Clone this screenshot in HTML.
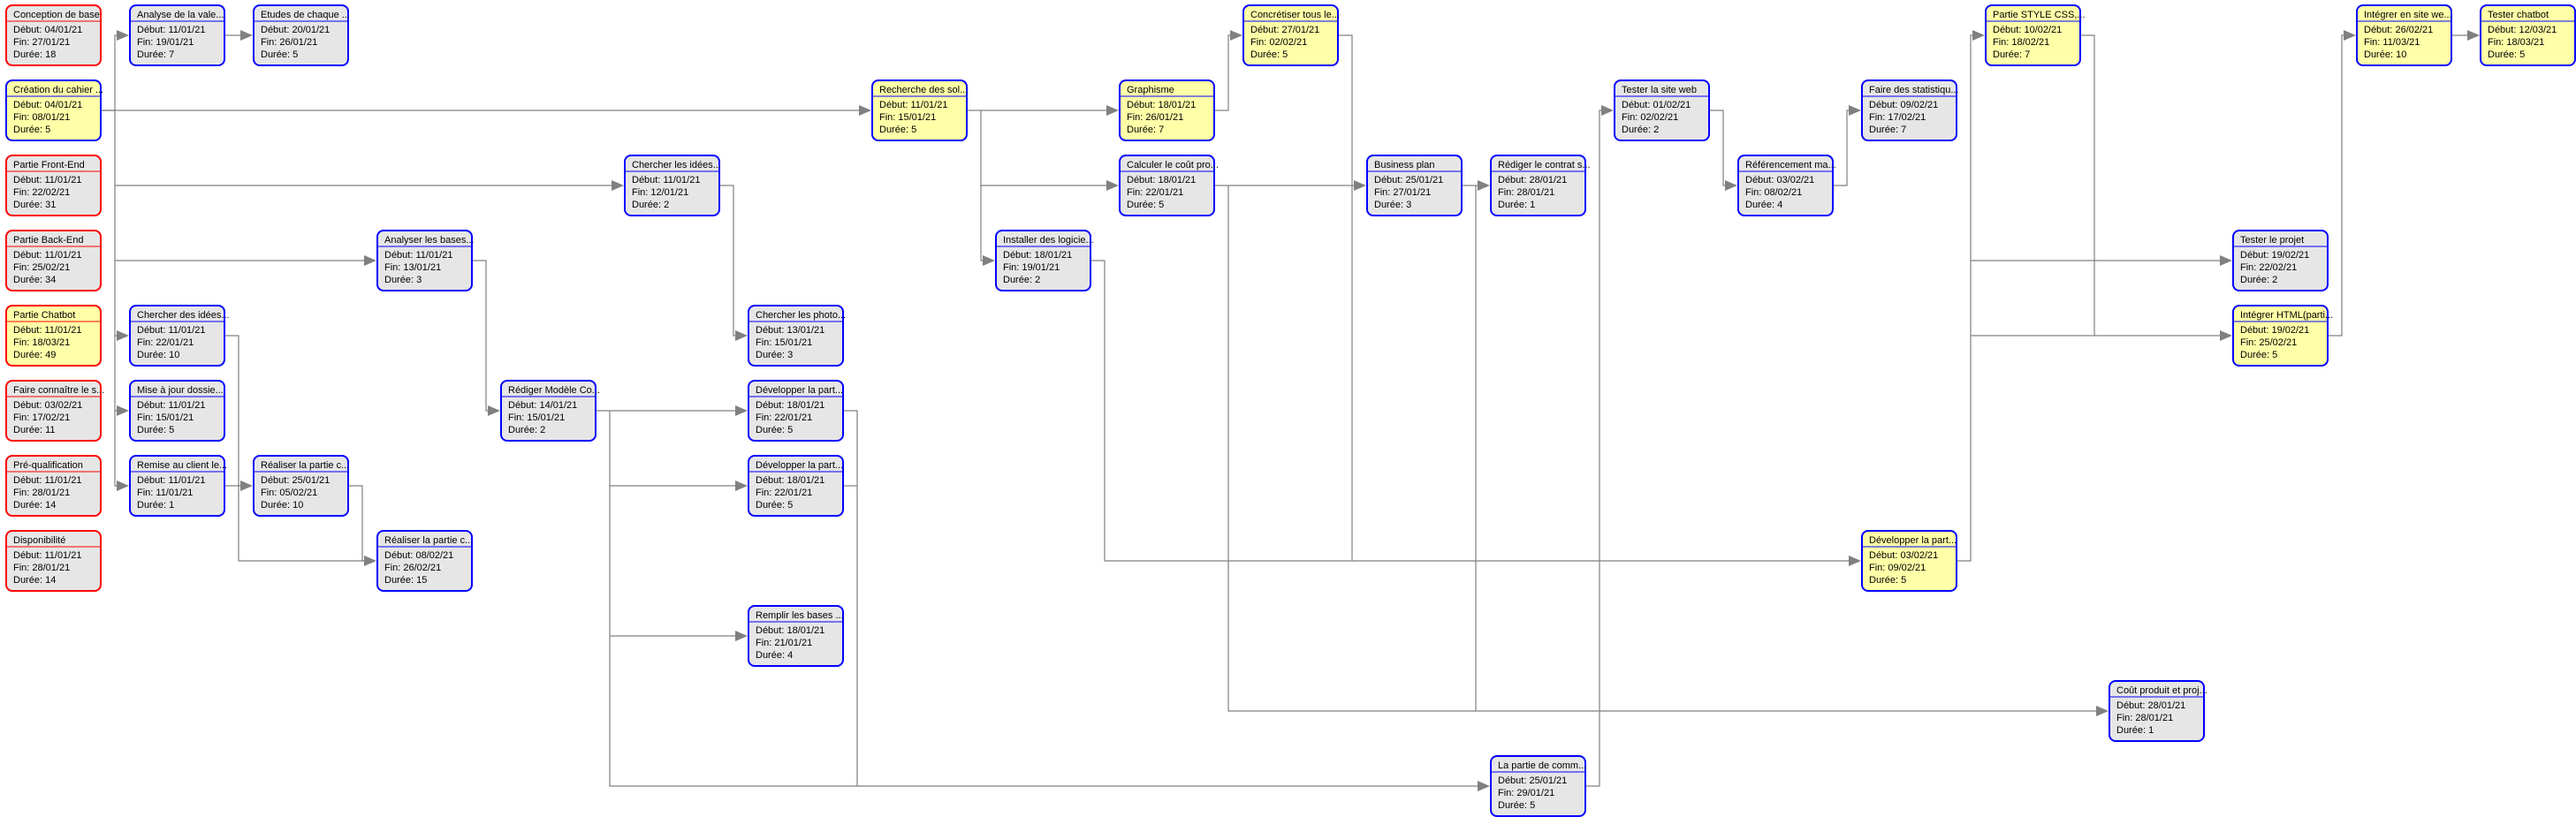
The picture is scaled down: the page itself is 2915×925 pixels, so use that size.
<!DOCTYPE html>
<html><head><meta charset="utf-8"><style>
html,body{margin:0;padding:0;background:#fff;}
svg{display:block;}
text{font-family:"Liberation Sans",sans-serif;font-size:11px;fill:#000;}
.g rect{fill:#e6e6e6}.y rect{fill:#ffffa8}
.b rect{stroke:#0000ff}.r rect{stroke:#ff0000}
.b line{stroke:#0000ff}.r line{stroke:#ff0000}
</style></head><body>
<svg width="2915" height="925" viewBox="0 0 2915 925" xmlns="http://www.w3.org/2000/svg">
<defs>
<g id="a"><polygon points="-14,-6 0,0 -14,6" fill="#808080"/></g>
</defs>
<g fill="none" stroke="#808080" stroke-width="1.2">
<path d="M115 125 H130 V40 H140"/>
<path d="M115 125 H980"/>
<path d="M130 125 V210 H700"/>
<path d="M130 210 V295 H420"/>
<path d="M130 295 V380 H140"/>
<path d="M130 380 V465 H140"/>
<path d="M130 465 V550 H140"/>
<path d="M255 40 H280"/>
<path d="M255 380 H270 V635 H420"/>
<path d="M255 550 H280"/>
<path d="M395 550 H410 V635 H420"/>
<path d="M535 295 H550 V465 H560"/>
<path d="M815 210 H830 V380 H840"/>
<path d="M675 465 H840"/>
<path d="M690 465 V550 H840"/>
<path d="M690 550 V720 H840"/>
<path d="M690 720 V890 H1680"/>
<path d="M955 465 H970 V890"/>
<path d="M955 550 H970"/>
<path d="M1095 125 H1260"/>
<path d="M1110 125 V210 H1260"/>
<path d="M1110 210 V295 H1120"/>
<path d="M1375 125 H1390 V40 H1400"/>
<path d="M1375 210 H1540"/>
<path d="M1390 210 V805 H2380"/>
<path d="M1235 295 H1250 V635 H2100"/>
<path d="M1515 40 H1530 V635"/>
<path d="M1655 210 H1680"/>
<path d="M1670 210 V805"/>
<path d="M1795 890 H1810 V125 H1820"/>
<path d="M1935 125 H1950 V210 H1960"/>
<path d="M2075 210 H2090 V125 H2100"/>
<path d="M2215 635 H2230 V40 H2240"/>
<path d="M2230 295 H2520"/>
<path d="M2230 380 H2520"/>
<path d="M2355 40 H2370 V380"/>
<path d="M2635 380 H2650 V40 H2660"/>
<path d="M2775 40 H2800"/>
</g>
<use href="#a" x="146" y="40"/><use href="#a" x="986" y="125"/><use href="#a" x="706" y="210"/><use href="#a" x="426" y="295"/>
<use href="#a" x="146" y="380"/><use href="#a" x="146" y="465"/><use href="#a" x="146" y="550"/><use href="#a" x="286" y="40"/>
<use href="#a" x="426" y="635"/><use href="#a" x="286" y="550"/><use href="#a" x="566" y="465"/><use href="#a" x="846" y="380"/>
<use href="#a" x="846" y="465"/><use href="#a" x="846" y="550"/><use href="#a" x="846" y="720"/><use href="#a" x="1686" y="890"/>
<use href="#a" x="1266" y="125"/><use href="#a" x="1266" y="210"/><use href="#a" x="1126" y="295"/><use href="#a" x="1406" y="40"/>
<use href="#a" x="1546" y="210"/><use href="#a" x="2386" y="805"/><use href="#a" x="2106" y="635"/><use href="#a" x="1686" y="210"/>
<use href="#a" x="1826" y="125"/><use href="#a" x="1966" y="210"/><use href="#a" x="2106" y="125"/><use href="#a" x="2246" y="40"/>
<use href="#a" x="2526" y="295"/><use href="#a" x="2526" y="380"/><use href="#a" x="2666" y="40"/><use href="#a" x="2806" y="40"/>

<g class="r g" transform="translate(6,5)"><rect x="1" y="1" width="107" height="68" rx="7" stroke-width="2"/><line x1="1" y1="19" x2="108" y2="19"/><text x="9" y="15">Conception de base</text><text x="9" y="32">Début: 04/01/21</text><text x="9" y="46">Fin: 27/01/21</text><text x="9" y="60">Durée: 18</text></g>
<g class="b y" transform="translate(6,90)"><rect x="1" y="1" width="107" height="68" rx="7" stroke-width="2"/><line x1="1" y1="19" x2="108" y2="19"/><text x="9" y="15">Création du cahier ...</text><text x="9" y="32">Début: 04/01/21</text><text x="9" y="46">Fin: 08/01/21</text><text x="9" y="60">Durée: 5</text></g>
<g class="r g" transform="translate(6,175)"><rect x="1" y="1" width="107" height="68" rx="7" stroke-width="2"/><line x1="1" y1="19" x2="108" y2="19"/><text x="9" y="15">Partie Front-End</text><text x="9" y="32">Début: 11/01/21</text><text x="9" y="46">Fin: 22/02/21</text><text x="9" y="60">Durée: 31</text></g>
<g class="r g" transform="translate(6,260)"><rect x="1" y="1" width="107" height="68" rx="7" stroke-width="2"/><line x1="1" y1="19" x2="108" y2="19"/><text x="9" y="15">Partie Back-End</text><text x="9" y="32">Début: 11/01/21</text><text x="9" y="46">Fin: 25/02/21</text><text x="9" y="60">Durée: 34</text></g>
<g class="r y" transform="translate(6,345)"><rect x="1" y="1" width="107" height="68" rx="7" stroke-width="2"/><line x1="1" y1="19" x2="108" y2="19"/><text x="9" y="15">Partie Chatbot</text><text x="9" y="32">Début: 11/01/21</text><text x="9" y="46">Fin: 18/03/21</text><text x="9" y="60">Durée: 49</text></g>
<g class="r g" transform="translate(6,430)"><rect x="1" y="1" width="107" height="68" rx="7" stroke-width="2"/><line x1="1" y1="19" x2="108" y2="19"/><text x="9" y="15">Faire connaître le s...</text><text x="9" y="32">Début: 03/02/21</text><text x="9" y="46">Fin: 17/02/21</text><text x="9" y="60">Durée: 11</text></g>
<g class="r g" transform="translate(6,515)"><rect x="1" y="1" width="107" height="68" rx="7" stroke-width="2"/><line x1="1" y1="19" x2="108" y2="19"/><text x="9" y="15">Pré-qualification</text><text x="9" y="32">Début: 11/01/21</text><text x="9" y="46">Fin: 28/01/21</text><text x="9" y="60">Durée: 14</text></g>
<g class="r g" transform="translate(6,600)"><rect x="1" y="1" width="107" height="68" rx="7" stroke-width="2"/><line x1="1" y1="19" x2="108" y2="19"/><text x="9" y="15">Disponibilité</text><text x="9" y="32">Début: 11/01/21</text><text x="9" y="46">Fin: 28/01/21</text><text x="9" y="60">Durée: 14</text></g>

<g class="b g" transform="translate(146,5)"><rect x="1" y="1" width="107" height="68" rx="7" stroke-width="2"/><line x1="1" y1="19" x2="108" y2="19"/><text x="9" y="15">Analyse de la vale...</text><text x="9" y="32">Début: 11/01/21</text><text x="9" y="46">Fin: 19/01/21</text><text x="9" y="60">Durée: 7</text></g>
<g class="b g" transform="translate(146,345)"><rect x="1" y="1" width="107" height="68" rx="7" stroke-width="2"/><line x1="1" y1="19" x2="108" y2="19"/><text x="9" y="15">Chercher des idées...</text><text x="9" y="32">Début: 11/01/21</text><text x="9" y="46">Fin: 22/01/21</text><text x="9" y="60">Durée: 10</text></g>
<g class="b g" transform="translate(146,430)"><rect x="1" y="1" width="107" height="68" rx="7" stroke-width="2"/><line x1="1" y1="19" x2="108" y2="19"/><text x="9" y="15">Mise à jour dossie...</text><text x="9" y="32">Début: 11/01/21</text><text x="9" y="46">Fin: 15/01/21</text><text x="9" y="60">Durée: 5</text></g>
<g class="b g" transform="translate(146,515)"><rect x="1" y="1" width="107" height="68" rx="7" stroke-width="2"/><line x1="1" y1="19" x2="108" y2="19"/><text x="9" y="15">Remise au client le...</text><text x="9" y="32">Début: 11/01/21</text><text x="9" y="46">Fin: 11/01/21</text><text x="9" y="60">Durée: 1</text></g>

<g class="b g" transform="translate(286,5)"><rect x="1" y="1" width="107" height="68" rx="7" stroke-width="2"/><line x1="1" y1="19" x2="108" y2="19"/><text x="9" y="15">Etudes de chaque ...</text><text x="9" y="32">Début: 20/01/21</text><text x="9" y="46">Fin: 26/01/21</text><text x="9" y="60">Durée: 5</text></g>
<g class="b g" transform="translate(286,515)"><rect x="1" y="1" width="107" height="68" rx="7" stroke-width="2"/><line x1="1" y1="19" x2="108" y2="19"/><text x="9" y="15">Réaliser la partie c...</text><text x="9" y="32">Début: 25/01/21</text><text x="9" y="46">Fin: 05/02/21</text><text x="9" y="60">Durée: 10</text></g>
<g class="b g" transform="translate(426,260)"><rect x="1" y="1" width="107" height="68" rx="7" stroke-width="2"/><line x1="1" y1="19" x2="108" y2="19"/><text x="9" y="15">Analyser les bases...</text><text x="9" y="32">Début: 11/01/21</text><text x="9" y="46">Fin: 13/01/21</text><text x="9" y="60">Durée: 3</text></g>
<g class="b g" transform="translate(426,600)"><rect x="1" y="1" width="107" height="68" rx="7" stroke-width="2"/><line x1="1" y1="19" x2="108" y2="19"/><text x="9" y="15">Réaliser la partie c...</text><text x="9" y="32">Début: 08/02/21</text><text x="9" y="46">Fin: 26/02/21</text><text x="9" y="60">Durée: 15</text></g>
<g class="b g" transform="translate(566,430)"><rect x="1" y="1" width="107" height="68" rx="7" stroke-width="2"/><line x1="1" y1="19" x2="108" y2="19"/><text x="9" y="15">Rédiger Modèle Co...</text><text x="9" y="32">Début: 14/01/21</text><text x="9" y="46">Fin: 15/01/21</text><text x="9" y="60">Durée: 2</text></g>
<g class="b g" transform="translate(706,175)"><rect x="1" y="1" width="107" height="68" rx="7" stroke-width="2"/><line x1="1" y1="19" x2="108" y2="19"/><text x="9" y="15">Chercher les idées...</text><text x="9" y="32">Début: 11/01/21</text><text x="9" y="46">Fin: 12/01/21</text><text x="9" y="60">Durée: 2</text></g>
<g class="b g" transform="translate(846,345)"><rect x="1" y="1" width="107" height="68" rx="7" stroke-width="2"/><line x1="1" y1="19" x2="108" y2="19"/><text x="9" y="15">Chercher les photo...</text><text x="9" y="32">Début: 13/01/21</text><text x="9" y="46">Fin: 15/01/21</text><text x="9" y="60">Durée: 3</text></g>
<g class="b g" transform="translate(846,430)"><rect x="1" y="1" width="107" height="68" rx="7" stroke-width="2"/><line x1="1" y1="19" x2="108" y2="19"/><text x="9" y="15">Développer la part...</text><text x="9" y="32">Début: 18/01/21</text><text x="9" y="46">Fin: 22/01/21</text><text x="9" y="60">Durée: 5</text></g>
<g class="b g" transform="translate(846,515)"><rect x="1" y="1" width="107" height="68" rx="7" stroke-width="2"/><line x1="1" y1="19" x2="108" y2="19"/><text x="9" y="15">Développer la part...</text><text x="9" y="32">Début: 18/01/21</text><text x="9" y="46">Fin: 22/01/21</text><text x="9" y="60">Durée: 5</text></g>
<g class="b g" transform="translate(846,685)"><rect x="1" y="1" width="107" height="68" rx="7" stroke-width="2"/><line x1="1" y1="19" x2="108" y2="19"/><text x="9" y="15">Remplir les bases ...</text><text x="9" y="32">Début: 18/01/21</text><text x="9" y="46">Fin: 21/01/21</text><text x="9" y="60">Durée: 4</text></g>
<g class="b y" transform="translate(986,90)"><rect x="1" y="1" width="107" height="68" rx="7" stroke-width="2"/><line x1="1" y1="19" x2="108" y2="19"/><text x="9" y="15">Recherche des sol...</text><text x="9" y="32">Début: 11/01/21</text><text x="9" y="46">Fin: 15/01/21</text><text x="9" y="60">Durée: 5</text></g>
<g class="b g" transform="translate(1126,260)"><rect x="1" y="1" width="107" height="68" rx="7" stroke-width="2"/><line x1="1" y1="19" x2="108" y2="19"/><text x="9" y="15">Installer des logicie...</text><text x="9" y="32">Début: 18/01/21</text><text x="9" y="46">Fin: 19/01/21</text><text x="9" y="60">Durée: 2</text></g>
<g class="b y" transform="translate(1266,90)"><rect x="1" y="1" width="107" height="68" rx="7" stroke-width="2"/><line x1="1" y1="19" x2="108" y2="19"/><text x="9" y="15">Graphisme</text><text x="9" y="32">Début: 18/01/21</text><text x="9" y="46">Fin: 26/01/21</text><text x="9" y="60">Durée: 7</text></g>
<g class="b g" transform="translate(1266,175)"><rect x="1" y="1" width="107" height="68" rx="7" stroke-width="2"/><line x1="1" y1="19" x2="108" y2="19"/><text x="9" y="15">Calculer le coût pro...</text><text x="9" y="32">Début: 18/01/21</text><text x="9" y="46">Fin: 22/01/21</text><text x="9" y="60">Durée: 5</text></g>
<g class="b y" transform="translate(1406,5)"><rect x="1" y="1" width="107" height="68" rx="7" stroke-width="2"/><line x1="1" y1="19" x2="108" y2="19"/><text x="9" y="15">Concrétiser tous le...</text><text x="9" y="32">Début: 27/01/21</text><text x="9" y="46">Fin: 02/02/21</text><text x="9" y="60">Durée: 5</text></g>
<g class="b g" transform="translate(1546,175)"><rect x="1" y="1" width="107" height="68" rx="7" stroke-width="2"/><line x1="1" y1="19" x2="108" y2="19"/><text x="9" y="15">Business plan</text><text x="9" y="32">Début: 25/01/21</text><text x="9" y="46">Fin: 27/01/21</text><text x="9" y="60">Durée: 3</text></g>
<g class="b g" transform="translate(1686,175)"><rect x="1" y="1" width="107" height="68" rx="7" stroke-width="2"/><line x1="1" y1="19" x2="108" y2="19"/><text x="9" y="15">Rédiger le contrat s...</text><text x="9" y="32">Début: 28/01/21</text><text x="9" y="46">Fin: 28/01/21</text><text x="9" y="60">Durée: 1</text></g>
<g class="b g" transform="translate(1686,855)"><rect x="1" y="1" width="107" height="68" rx="7" stroke-width="2"/><line x1="1" y1="19" x2="108" y2="19"/><text x="9" y="15">La partie de comm...</text><text x="9" y="32">Début: 25/01/21</text><text x="9" y="46">Fin: 29/01/21</text><text x="9" y="60">Durée: 5</text></g>
<g class="b g" transform="translate(1826,90)"><rect x="1" y="1" width="107" height="68" rx="7" stroke-width="2"/><line x1="1" y1="19" x2="108" y2="19"/><text x="9" y="15">Tester la site web</text><text x="9" y="32">Début: 01/02/21</text><text x="9" y="46">Fin: 02/02/21</text><text x="9" y="60">Durée: 2</text></g>
<g class="b g" transform="translate(1966,175)"><rect x="1" y="1" width="107" height="68" rx="7" stroke-width="2"/><line x1="1" y1="19" x2="108" y2="19"/><text x="9" y="15">Référencement ma...</text><text x="9" y="32">Début: 03/02/21</text><text x="9" y="46">Fin: 08/02/21</text><text x="9" y="60">Durée: 4</text></g>
<g class="b g" transform="translate(2106,90)"><rect x="1" y="1" width="107" height="68" rx="7" stroke-width="2"/><line x1="1" y1="19" x2="108" y2="19"/><text x="9" y="15">Faire des statistiqu...</text><text x="9" y="32">Début: 09/02/21</text><text x="9" y="46">Fin: 17/02/21</text><text x="9" y="60">Durée: 7</text></g>
<g class="b y" transform="translate(2106,600)"><rect x="1" y="1" width="107" height="68" rx="7" stroke-width="2"/><line x1="1" y1="19" x2="108" y2="19"/><text x="9" y="15">Développer la part...</text><text x="9" y="32">Début: 03/02/21</text><text x="9" y="46">Fin: 09/02/21</text><text x="9" y="60">Durée: 5</text></g>
<g class="b y" transform="translate(2246,5)"><rect x="1" y="1" width="107" height="68" rx="7" stroke-width="2"/><line x1="1" y1="19" x2="108" y2="19"/><text x="9" y="15">Partie STYLE CSS,...</text><text x="9" y="32">Début: 10/02/21</text><text x="9" y="46">Fin: 18/02/21</text><text x="9" y="60">Durée: 7</text></g>
<g class="b g" transform="translate(2386,770)"><rect x="1" y="1" width="107" height="68" rx="7" stroke-width="2"/><line x1="1" y1="19" x2="108" y2="19"/><text x="9" y="15">Coût produit et proj...</text><text x="9" y="32">Début: 28/01/21</text><text x="9" y="46">Fin: 28/01/21</text><text x="9" y="60">Durée: 1</text></g>
<g class="b g" transform="translate(2526,260)"><rect x="1" y="1" width="107" height="68" rx="7" stroke-width="2"/><line x1="1" y1="19" x2="108" y2="19"/><text x="9" y="15">Tester le projet</text><text x="9" y="32">Début: 19/02/21</text><text x="9" y="46">Fin: 22/02/21</text><text x="9" y="60">Durée: 2</text></g>
<g class="b y" transform="translate(2526,345)"><rect x="1" y="1" width="107" height="68" rx="7" stroke-width="2"/><line x1="1" y1="19" x2="108" y2="19"/><text x="9" y="15">Intégrer HTML(parti...</text><text x="9" y="32">Début: 19/02/21</text><text x="9" y="46">Fin: 25/02/21</text><text x="9" y="60">Durée: 5</text></g>
<g class="b y" transform="translate(2666,5)"><rect x="1" y="1" width="107" height="68" rx="7" stroke-width="2"/><line x1="1" y1="19" x2="108" y2="19"/><text x="9" y="15">Intégrer en site we...</text><text x="9" y="32">Début: 26/02/21</text><text x="9" y="46">Fin: 11/03/21</text><text x="9" y="60">Durée: 10</text></g>
<g class="b y" transform="translate(2806,5)"><rect x="1" y="1" width="107" height="68" rx="7" stroke-width="2"/><line x1="1" y1="19" x2="108" y2="19"/><text x="9" y="15">Tester chatbot</text><text x="9" y="32">Début: 12/03/21</text><text x="9" y="46">Fin: 18/03/21</text><text x="9" y="60">Durée: 5</text></g>
</svg>
</body></html>
